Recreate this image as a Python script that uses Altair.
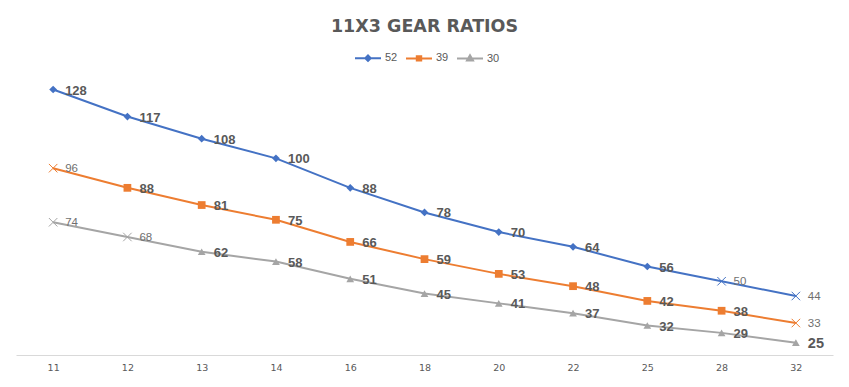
import altair as alt
import pandas as pd

gears = ["11", "12", "13", "14", "16", "18", "20", "22", "25", "28", "32"]
series_names = ["52", "39", "30"]
ratio_52 = [128, 117, 108, 100, 88, 78, 70, 64, 56, 50, 44]
ratio_39 = [96, 88, 81, 75, 66, 59, 53, 48, 42, 38, 33]
ratio_30 = [74, 68, 62, 58, 51, 45, 41, 37, 32, 29, 25]
# points that the reference draws with an "x" marker and a plain label
x_marker_52 = ["28", "32"]
x_marker_39 = ["11", "32"]
x_marker_30 = ["11", "12"]
colors = ["#4472C4", "#ED7D31", "#A5A5A5"]
marker_shapes = ["diamond", "square", "triangle-up"]

rows = []
for name, vals, xm in zip(series_names, [ratio_52, ratio_39, ratio_30],
                          [x_marker_52, x_marker_39, x_marker_30]):
    for g, v in zip(gears, vals):
        rows.append({"series": name, "gear": g, "value": v,
                     "marker": "x" if g in xm else "solid"})
df = pd.DataFrame(rows)

x_enc = alt.X("gear:O", sort=gears, title=None,
              axis=alt.Axis(labelAngle=0, ticks=False, domainColor="#d9d9d9",
                            labelFont="DejaVu Sans", labelFontSize=9.5,
                            labelColor="#595959", labelPadding=7, grid=False))
y_enc = alt.Y("value:Q", scale=alt.Scale(domain=[20, 140], zero=False, nice=False),
              axis=None)

# legend symbols: a line with the series marker in the middle
legend_paths = [
    "M-1,0H1M-0.21,0L0,-0.21L0.21,0L0,0.21ZM-0.08,0L0,-0.08L0.08,0L0,0.08Z",
    "M-1,0H1M-0.17,-0.17H0.17V0.17H-0.17ZM-0.06,-0.06H0.06V0.06H-0.06Z",
    "M-1,0H1M0,-0.25L0.23,0.15H-0.23ZM0,-0.09L0.09,0.07H-0.09Z",
]

legend = alt.Legend(
    orient="none", legendX=338, legendY=-16, direction="horizontal", title=None,
    symbolSize=676, symbolStrokeWidth=2, symbolOpacity=1,
    labelFont="Liberation Sans", labelFontSize=11, labelColor="#595959",
    labelOffset=3, columnPadding=4,
)

base = alt.Chart(df)

layers = []
for name, col, shp in zip(series_names, colors, marker_shapes):
    s = base.transform_filter(f"datum.series == '{name}'")
    layers.append(s.mark_line(strokeWidth=2, color=col).encode(x=x_enc, y=y_enc))

legend_layer = base.transform_filter("false").mark_point(
    filled=False, strokeWidth=2, opacity=1).encode(
    x=x_enc, y=y_enc,
    color=alt.Color("series:N", scale=alt.Scale(domain=series_names, range=colors),
                    sort=series_names, legend=legend),
    shape=alt.Shape("series:N", sort=series_names,
                    scale=alt.Scale(domain=series_names, range=legend_paths),
                    legend=legend),
)
layers.append(legend_layer)

for name, col, shp in zip(series_names, colors, marker_shapes):
    solid = base.transform_filter(
        f"datum.series == '{name}' && datum.marker == 'solid'")
    layers.append(solid.mark_point(filled=True, size=60, opacity=1, shape=shp,
                                   color=col).encode(x=x_enc, y=y_enc))
    cross = base.transform_filter(
        f"datum.series == '{name}' && datum.marker == 'x'")
    layers.append(cross.mark_point(filled=False, size=72, strokeWidth=1, opacity=1,
                                   shape="M-1,-1L1,1M-1,1L1,-1", color=col)
                  .encode(x=x_enc, y=y_enc))

bold_labels = base.transform_filter("datum.marker == 'solid'").mark_text(
    align="left", baseline="middle", dx=12, dy=1, font="Liberation Sans",
    fontWeight="bold", color="#595959").encode(
    x=x_enc, y=y_enc, text="value:Q",
    size=alt.condition("datum.series == '30' && datum.gear == '32'",
                       alt.value(14.5), alt.value(13)),
)

plain_labels = base.transform_filter("datum.marker == 'x'").mark_text(
    align="left", baseline="middle", dx=12, dy=1, font="Liberation Sans",
    fontSize=11.5, color="#6f6f6f").encode(
    x=x_enc, y=y_enc, text="value:Q",
)
layers += [bold_labels, plain_labels]

chart = alt.layer(*layers).properties(
    width=817, height=295,
    title=alt.TitleParams("11X3 GEAR RATIOS", font="DejaVu Sans", fontSize=17.5,
                          fontWeight="bold", color="#595959", anchor="middle",
                          offset=9),
    autosize=alt.AutoSizeParams(type="none"),
    padding={"left": 8, "top": 52, "right": 8, "bottom": 24},
).configure_view(stroke=None)

chart.save("out.html", embed_options={"renderer": "svg", "actions": False})
